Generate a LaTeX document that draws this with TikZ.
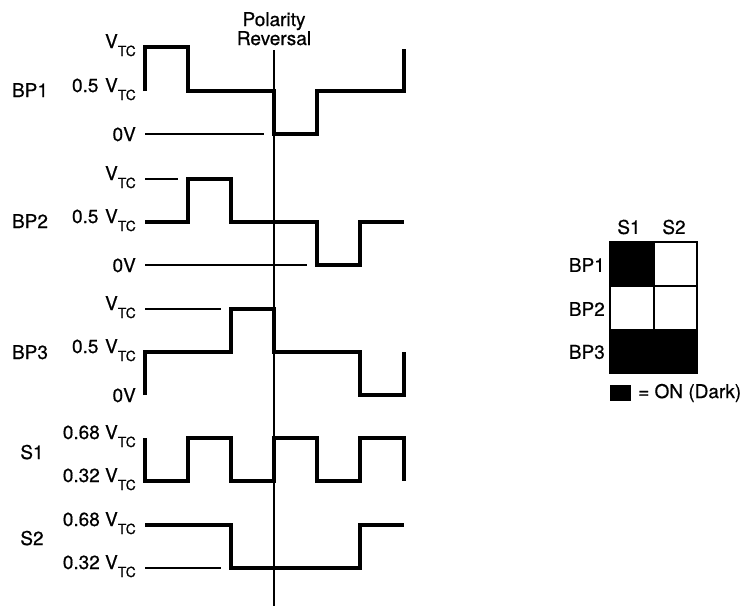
\documentclass[tikz,border=0pt]{standalone}
\usepackage{fontspec}
\setmainfont{TeX Gyre Heros}
\newfontfamily\myfont{TeX Gyre Heros}[FakeBold=0.6]
\newcommand\myVtc{V\raisebox{-8pt}{\fontsize{14}{14}\selectfont TC}}
\tikzset{
  wave/.style={line width=3.2pt, line join=miter},
  thinline/.style={line width=1.4pt},
  lvl/.style={anchor=base east, inner sep=0pt, font=\myfont\fontsize{19}{21}\selectfont},
  sig/.style={anchor=base, inner sep=0pt, font=\myfont\fontsize{19}{21}\selectfont},
  tbl/.style={inner sep=0pt, font=\myfont\fontsize{19}{21}\selectfont},
}
\begin{document}
\begin{tikzpicture}[x=1pt,y=-1pt]
\useasboundingbox (0,0) rectangle (745,606);
% Polarity reversal
\node[tbl, anchor=base] (pol1) at (274,26) {Polarity};
\node[tbl, anchor=base] (pol2) at (274,45) {Reversal};
\coordinate (pt) at (274,50);
\coordinate (pb) at (274,606);
\draw[thinline] (pt) -- (pb);

% ---- BP1 ----
\node[sig] (bp1) at (30,97) {BP1};
\node[lvl] (bp1a) at (136,48) {\myVtc};
\node[lvl] (bp1b) at (136,92) {0.5\hspace{0.35em}\myVtc};
\node[lvl] (bp1c) at (136,141) {0V};
\draw[thinline] (145,134) -- (264,134);
\draw[wave] (145,91)--(145,47)--(188,47)--(188,91)--(274,91)--(274,134)--(317,134)--(317,91)--(404,91)--(404,49);

% ---- BP2 ----
\node[sig] (bp2) at (30,228) {BP2};
\node[lvl] (bp2a) at (136,180) {\myVtc};
\node[lvl] (bp2b) at (136,223) {0.5\hspace{0.35em}\myVtc};
\node[lvl] (bp2c) at (136,272) {0V};
\draw[thinline] (145,179) -- (178,179);
\draw[thinline] (145,265) -- (307,265);
\draw[wave] (145,222)--(188,222)--(188,179)--(231,179)--(231,222)--(317,222)--(317,265)--(360,265)--(360,222)--(404,222);

% ---- BP3 ----
\node[sig] (bp3) at (30,359) {BP3};
\node[lvl] (bp3a) at (136,310) {\myVtc};
\node[lvl] (bp3b) at (136,353) {0.5\hspace{0.35em}\myVtc};
\node[lvl] (bp3c) at (136,402) {0V};
\draw[thinline] (145,309) -- (221,309);
\draw[wave] (145,395)--(145,352)--(231,352)--(231,309)--(274,309)--(274,352)--(360,352)--(360,395)--(404,395)--(404,352);

% ---- S1 ----
\node[sig] (s1) at (32,459) {S1};
\node[lvl] (s1a) at (136,439) {0.68 \myVtc};
\node[lvl] (s1b) at (136,482) {0.32 \myVtc};
\draw[wave] (145,438)--(145,481)--(188,481)--(188,438)--(231,438)--(231,481)--(274,481)--(274,438)--(317,438)--(317,481)--(360,481)--(360,438)--(404,438)--(404,481);

% ---- S2 ----
\node[sig] (s2) at (32,545) {S2};
\node[lvl] (s2a) at (136,526) {0.68 \myVtc};
\node[lvl] (s2b) at (136,569) {0.32 \myVtc};
\draw[thinline] (145,568) -- (221,568);
\draw[wave] (145,525)--(231,525)--(231,568)--(360,568)--(360,525)--(404,525);

% ---- Table ----
\node[tbl] (hs1) at (629,227) {S1};
\node[tbl] (hs2) at (674,227) {S2};
\node[tbl, anchor=east] (r1) at (605,265) {BP1};
\node[tbl, anchor=east] (r2) at (605,309) {BP2};
\node[tbl, anchor=east] (r3) at (605,352) {BP3};
\fill[black] (610,242) rectangle (654,286);
\fill[black] (610,330) rectangle (697,373);
\draw[line width=1.8pt] (610,242) rectangle (697,373);
\draw[line width=1.6pt] (610,286) -- (697,286);
\draw[line width=1.6pt] (610,330) -- (697,330);
\draw[line width=1.6pt] (654,242) -- (654,373);
% legend
\fill[black] (610,385) rectangle (631,401);
\node[tbl, anchor=west] (leg) at (638,393) {= ON (Dark)};
\end{tikzpicture}
\end{document}
